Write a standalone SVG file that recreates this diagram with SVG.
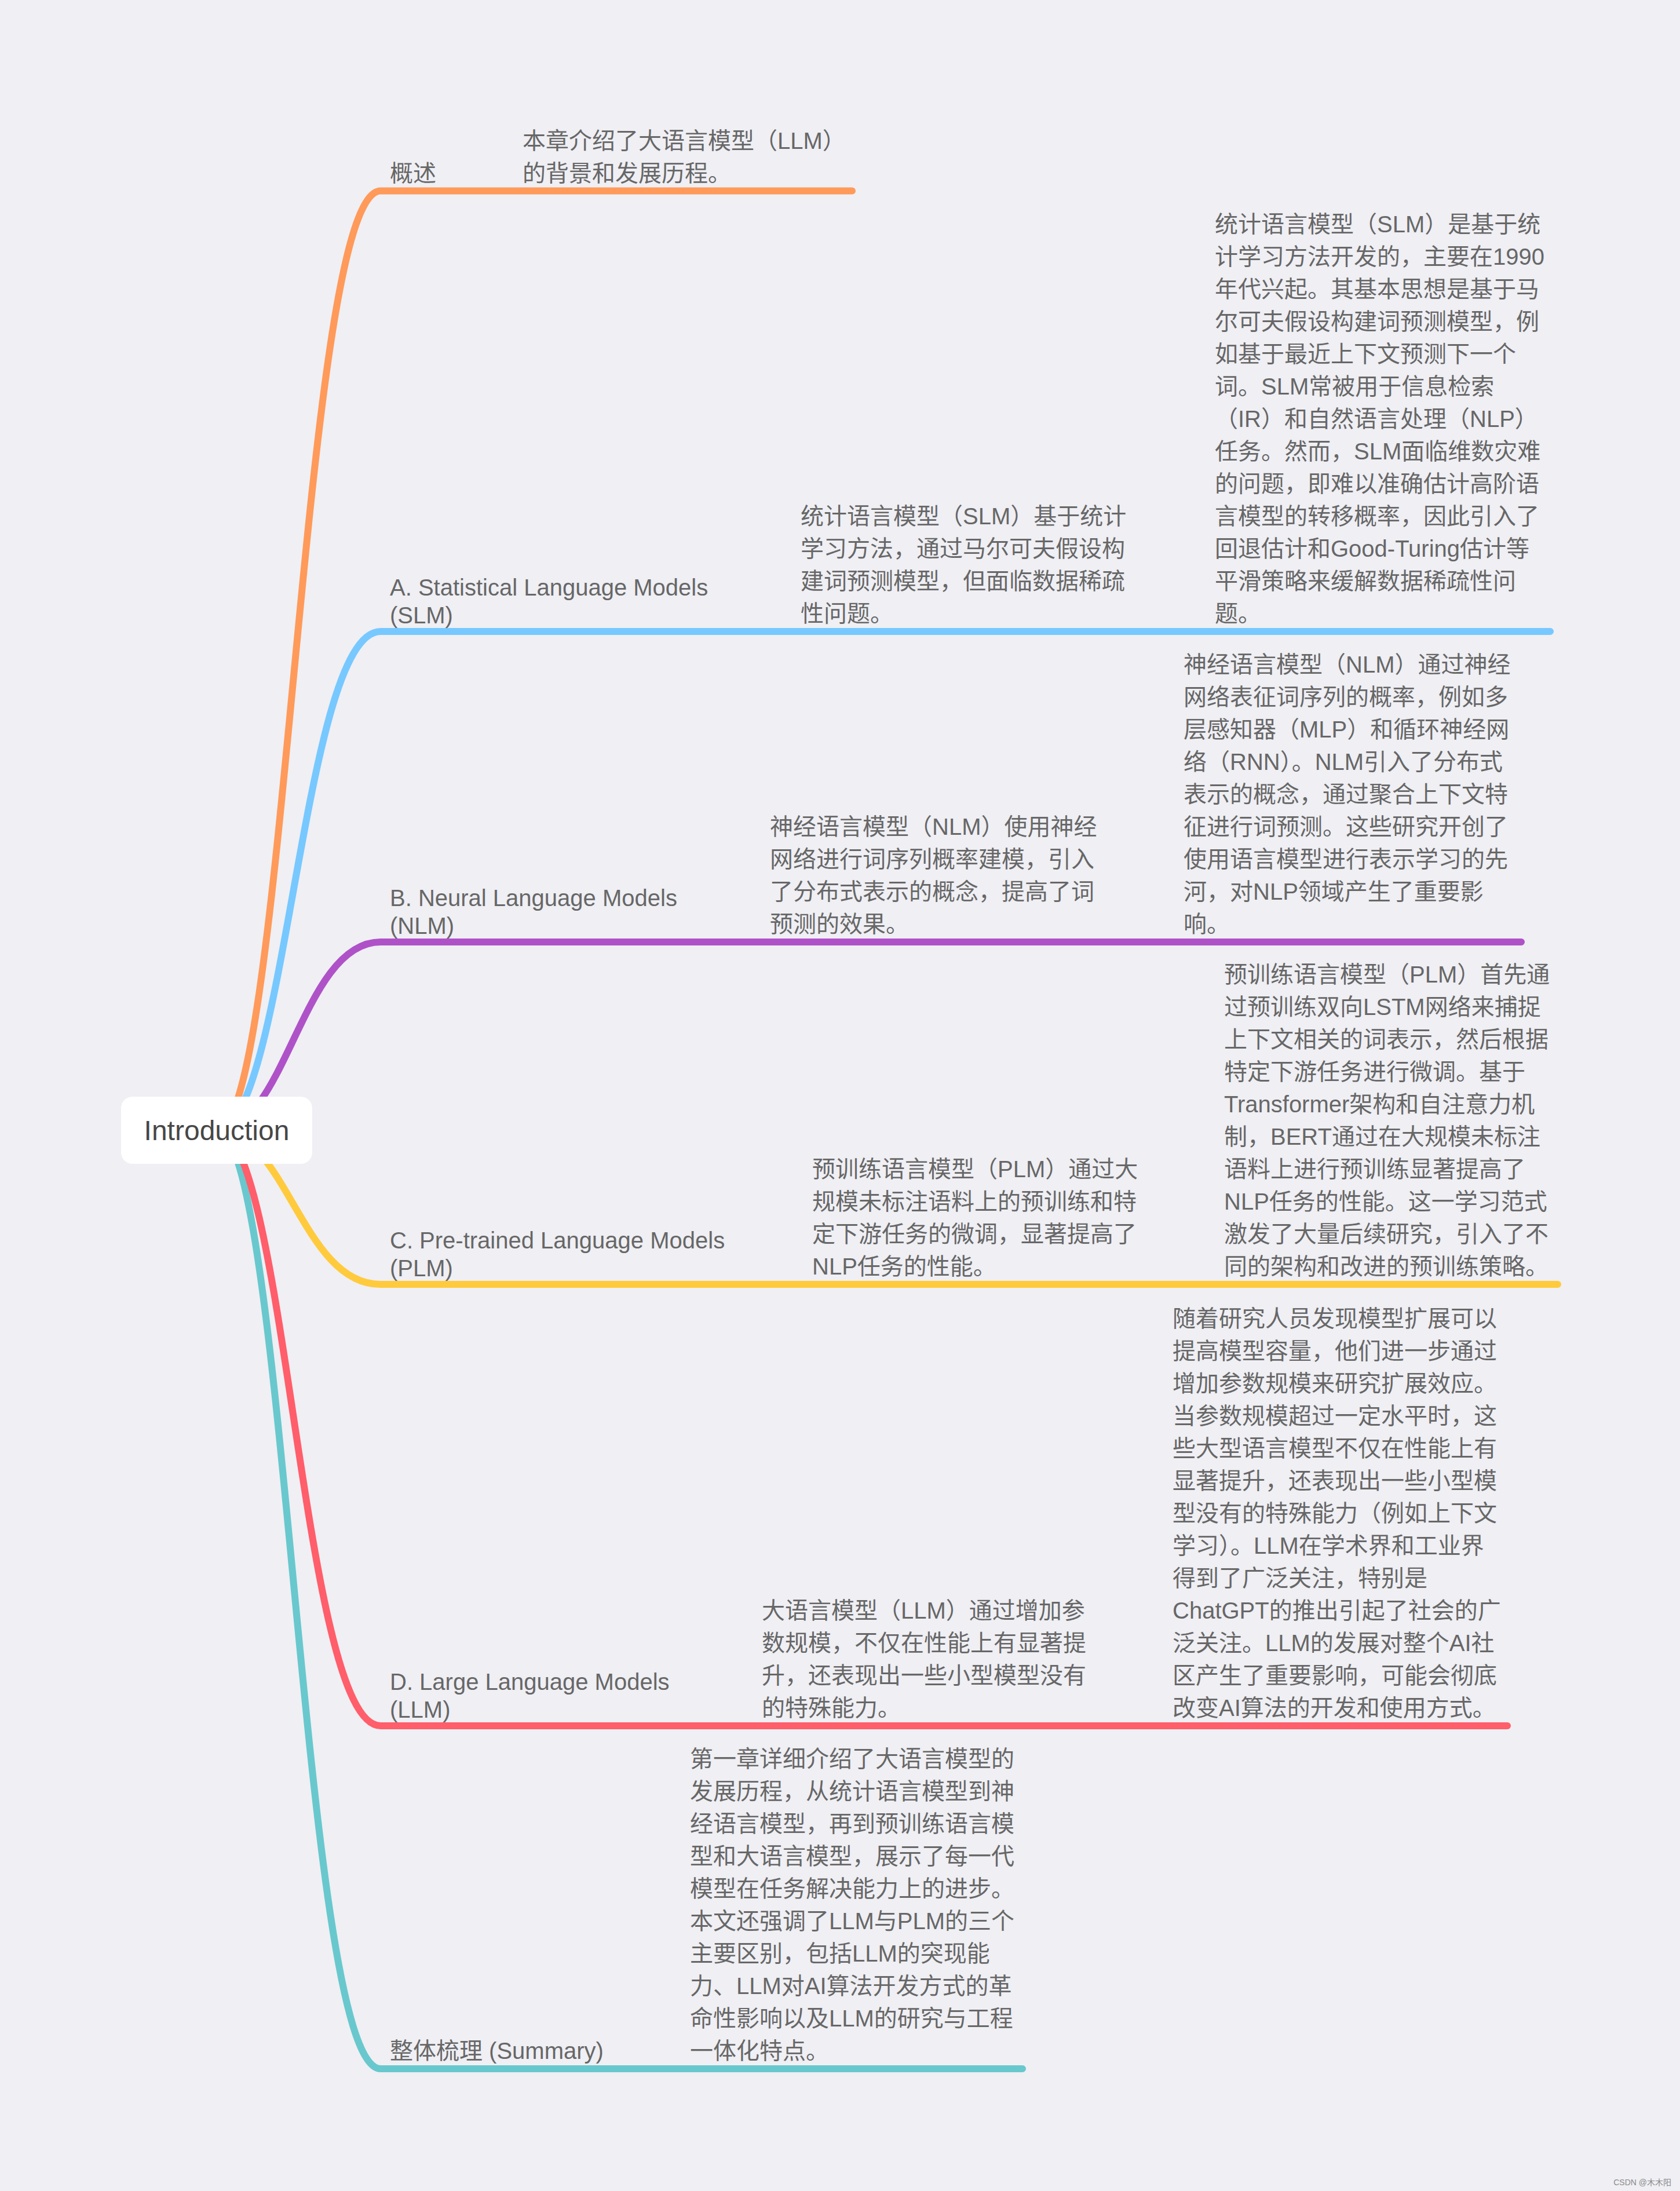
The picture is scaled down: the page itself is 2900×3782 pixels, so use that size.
<svg xmlns="http://www.w3.org/2000/svg" width="2900" height="3782" viewBox="0 0 2900 3782">
<style>
.bg{fill:#efeff4}
.br{fill:none;stroke-width:12;stroke-linecap:round;stroke-linejoin:round}
.t{font-family:"Liberation Sans","Noto Sans CJK SC",sans-serif;font-size:40px;fill:#676767}
.lb{font-family:"Liberation Sans","Noto Sans CJK SC",sans-serif;font-size:40px;fill:#676767}
.root{font-family:"Liberation Sans","Noto Sans CJK SC",sans-serif;font-size:48px;fill:#474747}
.wm{font-family:"Liberation Sans","Noto Sans CJK SC",sans-serif;font-size:14px;fill:#8a8a8a}
</style>
<rect class="bg" x="0" y="0" width="2900" height="3782"/>
<g id="connectors">
  <path id="c-summary" class="br" stroke="#68c8cd" d="M374 1951 C494 1951 521 3571 657 3571 H1765"/>
  <path id="c-llm" class="br" stroke="#ff5e6a" d="M374 1951 C494 1951 521 2979 657 2979 H2602"/>
  <path id="c-plm" class="br" stroke="#ffcb3d" d="M374 1951 C494 1951 521 2217 657 2217 H2689"/>
  <path id="c-nlm" class="br" stroke="#af52c8" d="M374 1951 C494 1951 521 1626 657 1626 H2626"/>
  <path id="c-slm" class="br" stroke="#77c8ff" d="M374 1951 C494 1951 521 1090 657 1090 H2676"/>
  <path id="c-overview" class="br" stroke="#ff9a5a" d="M374 1951 C494 1951 521 329.5 657 329.5 H1471"/>
</g>
<g id="root">
  <rect x="209" y="1893" width="330" height="116" rx="20" fill="#ffffff"/>
  <text class="root" x="374" y="1968" text-anchor="middle">Introduction</text>
</g>
<g id="n-overview">
  <text class="t" x="673" y="312.5">概述</text>
</g>
<g id="n-overview-desc">
  <text class="t"><tspan x="902" y="256.5">本章介绍了大语言模型（LLM）</tspan><tspan x="902" y="312.5">的背景和发展历程。</tspan></text>
</g>
<g id="n-slm">
  <text class="lb"><tspan x="673" y="1028">A. Statistical Language Models</tspan><tspan x="673" y="1076">(SLM)</tspan></text>
</g>
<g id="n-slm-sum">
  <text class="t"><tspan x="1382" y="905">统计语言模型（SLM）基于统计</tspan><tspan x="1382" dy="56">学习方法，通过马尔可夫假设构</tspan><tspan x="1382" dy="56">建词预测模型，但面临数据稀疏</tspan><tspan x="1382" dy="56">性问题。</tspan></text>
</g>
<g id="n-slm-detail">
  <text class="t"><tspan x="2097" y="401">统计语言模型（SLM）是基于统</tspan><tspan x="2097" dy="56">计学习方法开发的，主要在1990</tspan><tspan x="2097" dy="56">年代兴起。其基本思想是基于马</tspan><tspan x="2097" dy="56">尔可夫假设构建词预测模型，例</tspan><tspan x="2097" dy="56">如基于最近上下文预测下一个</tspan><tspan x="2097" dy="56">词。SLM常被用于信息检索</tspan><tspan x="2097" dy="56">（IR）和自然语言处理（NLP）</tspan><tspan x="2097" dy="56">任务。然而，SLM面临维数灾难</tspan><tspan x="2097" dy="56">的问题，即难以准确估计高阶语</tspan><tspan x="2097" dy="56">言模型的转移概率，因此引入了</tspan><tspan x="2097" dy="56">回退估计和Good-Turing估计等</tspan><tspan x="2097" dy="56">平滑策略来缓解数据稀疏性问</tspan><tspan x="2097" dy="56">题。</tspan></text>
</g>
<g id="n-nlm">
  <text class="lb"><tspan x="673" y="1564">B. Neural Language Models</tspan><tspan x="673" y="1612">(NLM)</tspan></text>
</g>
<g id="n-nlm-sum">
  <text class="t"><tspan x="1329" y="1441">神经语言模型（NLM）使用神经</tspan><tspan x="1329" dy="56">网络进行词序列概率建模，引入</tspan><tspan x="1329" dy="56">了分布式表示的概念，提高了词</tspan><tspan x="1329" dy="56">预测的效果。</tspan></text>
</g>
<g id="n-nlm-detail">
  <text class="t"><tspan x="2043" y="1161">神经语言模型（NLM）通过神经</tspan><tspan x="2043" dy="56">网络表征词序列的概率，例如多</tspan><tspan x="2043" dy="56">层感知器（MLP）和循环神经网</tspan><tspan x="2043" dy="56">络（RNN）。NLM引入了分布式</tspan><tspan x="2043" dy="56">表示的概念，通过聚合上下文特</tspan><tspan x="2043" dy="56">征进行词预测。这些研究开创了</tspan><tspan x="2043" dy="56">使用语言模型进行表示学习的先</tspan><tspan x="2043" dy="56">河，对NLP领域产生了重要影</tspan><tspan x="2043" dy="56">响。</tspan></text>
</g>
<g id="n-plm">
  <text class="lb"><tspan x="673" y="2155">C. Pre-trained Language Models</tspan><tspan x="673" y="2203">(PLM)</tspan></text>
</g>
<g id="n-plm-sum">
  <text class="t"><tspan x="1402" y="2032">预训练语言模型（PLM）通过大</tspan><tspan x="1402" dy="56">规模未标注语料上的预训练和特</tspan><tspan x="1402" dy="56">定下游任务的微调，显著提高了</tspan><tspan x="1402" dy="56">NLP任务的性能。</tspan></text>
</g>
<g id="n-plm-detail">
  <text class="t"><tspan x="2113" y="1696">预训练语言模型（PLM）首先通</tspan><tspan x="2113" dy="56">过预训练双向LSTM网络来捕捉</tspan><tspan x="2113" dy="56">上下文相关的词表示，然后根据</tspan><tspan x="2113" dy="56">特定下游任务进行微调。基于</tspan><tspan x="2113" dy="56">Transformer架构和自注意力机</tspan><tspan x="2113" dy="56">制，BERT通过在大规模未标注</tspan><tspan x="2113" dy="56">语料上进行预训练显著提高了</tspan><tspan x="2113" dy="56">NLP任务的性能。这一学习范式</tspan><tspan x="2113" dy="56">激发了大量后续研究，引入了不</tspan><tspan x="2113" dy="56">同的架构和改进的预训练策略。</tspan></text>
</g>
<g id="n-llm">
  <text class="lb"><tspan x="673" y="2917">D. Large Language Models</tspan><tspan x="673" y="2965">(LLM)</tspan></text>
</g>
<g id="n-llm-sum">
  <text class="t"><tspan x="1315" y="2794">大语言模型（LLM）通过增加参</tspan><tspan x="1315" dy="56">数规模，不仅在性能上有显著提</tspan><tspan x="1315" dy="56">升，还表现出一些小型模型没有</tspan><tspan x="1315" dy="56">的特殊能力。</tspan></text>
</g>
<g id="n-llm-detail">
  <text class="t"><tspan x="2024" y="2290">随着研究人员发现模型扩展可以</tspan><tspan x="2024" dy="56">提高模型容量，他们进一步通过</tspan><tspan x="2024" dy="56">增加参数规模来研究扩展效应。</tspan><tspan x="2024" dy="56">当参数规模超过一定水平时，这</tspan><tspan x="2024" dy="56">些大型语言模型不仅在性能上有</tspan><tspan x="2024" dy="56">显著提升，还表现出一些小型模</tspan><tspan x="2024" dy="56">型没有的特殊能力（例如上下文</tspan><tspan x="2024" dy="56">学习）。LLM在学术界和工业界</tspan><tspan x="2024" dy="56">得到了广泛关注，特别是</tspan><tspan x="2024" dy="56">ChatGPT的推出引起了社会的广</tspan><tspan x="2024" dy="56">泛关注。LLM的发展对整个AI社</tspan><tspan x="2024" dy="56">区产生了重要影响，可能会彻底</tspan><tspan x="2024" dy="56">改变AI算法的开发和使用方式。</tspan></text>
</g>
<g id="n-summary">
  <text class="t" x="673" y="3554">整体梳理 (Summary)</text>
</g>
<g id="n-summary-detail">
  <text class="t"><tspan x="1191" y="3050">第一章详细介绍了大语言模型的</tspan><tspan x="1191" dy="56">发展历程，从统计语言模型到神</tspan><tspan x="1191" dy="56">经语言模型，再到预训练语言模</tspan><tspan x="1191" dy="56">型和大语言模型，展示了每一代</tspan><tspan x="1191" dy="56">模型在任务解决能力上的进步。</tspan><tspan x="1191" dy="56">本文还强调了LLM与PLM的三个</tspan><tspan x="1191" dy="56">主要区别，包括LLM的突现能</tspan><tspan x="1191" dy="56">力、LLM对AI算法开发方式的革</tspan><tspan x="1191" dy="56">命性影响以及LLM的研究与工程</tspan><tspan x="1191" dy="56">一体化特点。</tspan></text>
</g>
<text class="wm" x="2885" y="3772" text-anchor="end">CSDN @木木阳</text>
</svg>
